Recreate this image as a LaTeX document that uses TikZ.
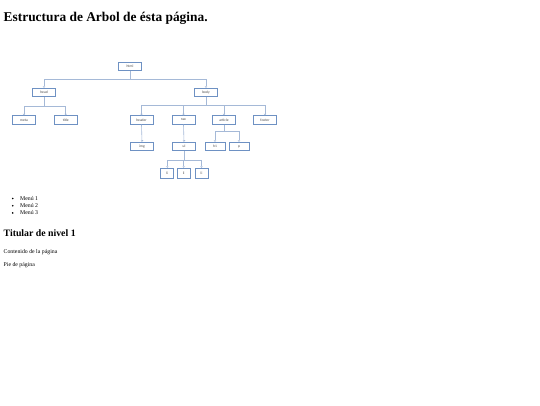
\documentclass[tikz,border=0pt]{standalone}
\usepackage{fontspec}
\setmainfont{Liberation Serif}
\newfontfamily\tagfont{Carlito}
\usetikzlibrary{arrows.meta}
\definecolor{boxc}{RGB}{110,145,195}
\definecolor{linec}{RGB}{165,185,215}
\definecolor{tagtext}{RGB}{70,70,70}
\begin{document}
\begin{tikzpicture}[x=1pt,y=-1pt,
    tag/.style={draw=boxc,line width=0.8pt,fill=white,minimum width=23pt,minimum height=8.5pt,inner sep=0pt,text=tagtext,font=\tagfont\fontsize{3.6}{4}\selectfont},
    small/.style={tag,minimum width=20pt},
    li/.style={tag,minimum width=13pt,minimum height=10.5pt},
    edge/.style={draw=linec,line width=0.6pt,-{Triangle[open,length=1.6pt,width=2.6pt]}},
    txt/.style={anchor=base west,inner sep=0pt}]

      \useasboundingbox (0,0) rectangle (540,405);

      \node[txt, font=\bfseries\fontsize{13.4}{16}\selectfont] (titulo) at (3.5,21.7) {Estructura de Arbol de ésta página.};

      \node[tag] (html) at (130,66.3) {html};
      \node[tag] (head) at (44,92.5) {head};
      \node[tag] (body) at (206,92.5) {body};
      \node[tag] (meta) at (24,120) {meta};
      \node[tag] (title) at (65.7,120) {title};
      \node[tag] (header) at (141.5,120) {header};
      \node[tag] (nav) at (183.5,120) {nav};
      \node[tag] (article) at (224,120) {article};
      \node[tag] (footer) at (265,120) {footer};
      \node[tag] (img) at (142,146.5) {img};
      \node[tag] (ul) at (184,146.5) {ul};
      \node[small] (h1) at (215,146.5) {h1};
      \node[small] (p) at (239,146.5) {p};
      \node[li] (li1) at (167.3,173.5) {li};
      \node[li] (li2) at (183.7,173.5) {li};
      \node[li] (li3) at (201.5,173.5) {li};

      \draw[edge] (html.south) -- (html.south |- 0,79) -| (head.north);
      \draw[edge] (html.south) -- (html.south |- 0,79) -| (body.north);
      \draw[edge] (head.south) -- (head.south |- 0,106) -| (meta.north);
      \draw[edge] (head.south) -- (head.south |- 0,106) -| (title.north);
      \draw[edge] (body.south) -- (body.south |- 0,105) -| (header.north);
      \draw[edge] (body.south) -- (body.south |- 0,105) -| (nav.north);
      \draw[edge] (body.south) -- (body.south |- 0,105) -| (article.north);
      \draw[edge] (body.south) -- (body.south |- 0,105) -| (footer.north);
      \draw[edge] (header.south) -- (img.north);
      \draw[edge] (nav.south) -- (ul.north);
      \draw[edge] (article.south) -- (article.south |- 0,131) -| (h1.north);
      \draw[edge] (article.south) -- (article.south |- 0,131) -| (p.north);
      \draw[edge] (ul.south) -- (ul.south |- 0,160) -| (li1.north);
      \draw[edge] (ul.south) -- (ul.south |- 0,160) -| (li2.north);
      \draw[edge] (ul.south) -- (ul.south |- 0,160) -| (li3.north);

      \foreach \y/\n in {200.3/1, 207.5/2, 214.7/3} {
        \fill (12.7,\y-1.8) circle (0.9pt);
        \node[txt, font=\fontsize{5.8}{7}\selectfont] at (20,\y) {Menú \n};
      }

      \node[txt, font=\bfseries\fontsize{9.8}{11}\selectfont] (titular) at (3.5,236) {Titular de nivel 1};
      \node[txt, font=\fontsize{5.8}{7}\selectfont] (contenido) at (3.5,253.3) {Contenido de la página};
      \node[txt, font=\fontsize{5.8}{7}\selectfont] (pie) at (3.5,266.7) {Pie de página};

    \end{tikzpicture}
\end{document}
